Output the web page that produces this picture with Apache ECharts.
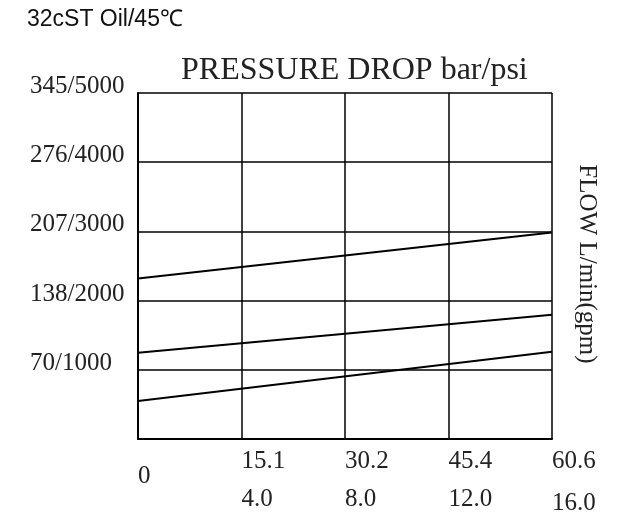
<!DOCTYPE html>
<html>
<head>
<meta charset="utf-8">
<script src="https://cdn.jsdelivr.net/npm/echarts@6/dist/echarts.min.js"></script>
<style>
  html, body { margin: 0; padding: 0; background: #fff; }
  #chart { width: 637px; height: 512px; }
</style>
</head>
<body>
<div id="chart"></div>
<script>
// flow axis (gpm drives the scale, L/min shown on top row)
var flowGpm = [0, 4, 8, 12, 16];
var flowLpmLabels = ['0', '15.1', '30.2', '45.4', '60.6'];
var flowGpmLabels = ['', '4.0', '8.0', '12.0', '16.0'];

// pressure axis, bar
var pressureTicks = [0, 69, 138, 207, 276, 345];
var pressureLabels = ['', '70/1000', '138/2000', '207/3000', '276/4000', '345/5000'];

// pressure drop curves [gpm, bar]
var curveHigh = [[0, 160], [16, 206]];
var curveMid = [[0, 86], [16, 124]];
var curveLow = [[0, 38], [16, 87]];

var chart = echarts.init(document.getElementById('chart'));

var serifFont = '"Liberation Serif", "DejaVu Serif", serif';

function curve(data) {
    return {
        type: 'line',
        data: data,
        symbol: 'none',
        silent: true,
        lineStyle: { color: '#000', width: 2 }
    };
}

var option = {
    backgroundColor: '#fff',
    animation: false,
    title: {
        text: 'PRESSURE DROP bar/psi',
        left: 176,
        top: 50,
        textStyle: {
            fontFamily: serifFont,
            fontSize: 32,
            fontWeight: 'normal',
            color: '#222'
        }
    },
    graphic: [
        {
            type: 'text',
            left: 27,
            top: 8,
            style: {
                text: '32cST Oil/45℃',
                font: '23px "Liberation Sans", Arial, sans-serif',
                fill: '#111'
            }
        },
        {
            type: 'text',
            x: 587,
            y: 264,
            rotation: -Math.PI / 2,
            style: {
                text: 'FLOW L/min(gpm)',
                font: '25px ' + serifFont,
                fill: '#222',
                align: 'center',
                verticalAlign: 'middle'
            }
        }
    ],
    grid: {
        left: 138,
        top: 93,
        right: 85,
        bottom: 73,
        containLabel: false,
        outerBoundsMode: 'none'
    },
    xAxis: {
        type: 'value',
        min: flowGpm[0],
        max: flowGpm[flowGpm.length - 1],
        interval: 4,
        axisLine: { show: true, lineStyle: { color: '#000', width: 2 } },
        axisTick: { show: false },
        splitLine: { show: true, lineStyle: { color: '#000', width: 1.5 } },
        axisLabel: {
            align: 'left',
            margin: 3,
            formatter: function (v) {
                var i = flowGpm.indexOf(v);
                if (i === 0) return '{z|' + flowLpmLabels[0] + '}';
                if (i === flowGpm.length - 1) {
                    return '{a|' + flowLpmLabels[i] + '}\n{c|' + flowGpmLabels[i] + '}';
                }
                return '{a|' + flowLpmLabels[i] + '}\n{b|' + flowGpmLabels[i] + '}';
            },
            rich: {
                a: { fontFamily: serifFont, fontSize: 25, color: '#222', lineHeight: 38 },
                b: { fontFamily: serifFont, fontSize: 25, color: '#222', lineHeight: 38 },
                c: { fontFamily: serifFont, fontSize: 25, color: '#222', lineHeight: 46 },
                z: { fontFamily: serifFont, fontSize: 25, color: '#222', lineHeight: 68 }
            }
        }
    },
    yAxis: {
        type: 'value',
        min: pressureTicks[0],
        max: pressureTicks[pressureTicks.length - 1],
        interval: 69,
        axisLine: { show: true, lineStyle: { color: '#000', width: 2 } },
        axisTick: { show: false },
        splitLine: { show: true, lineStyle: { color: '#000', width: 1.5 } },
        axisLabel: {
            align: 'left',
            margin: 108,
            verticalAlign: 'bottom',
            lineHeight: 13,
            fontFamily: serifFont,
            fontSize: 25,
            color: '#222',
            formatter: function (v) {
                return pressureLabels[pressureTicks.indexOf(v)] || '';
            }
        }
    },
    series: [curve(curveHigh), curve(curveMid), curve(curveLow)]
};

chart.setOption(option);

window.addEventListener('resize', function () {
    chart.resize();
});
</script>
</body>
</html>
